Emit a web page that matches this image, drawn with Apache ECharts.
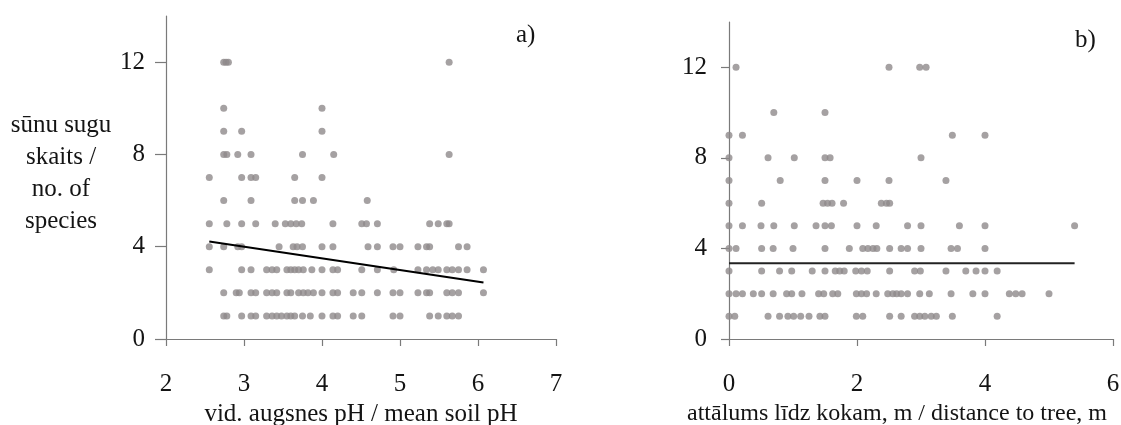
<!DOCTYPE html>
<html>
<head>
<meta charset="utf-8">
<script src="https://cdn.jsdelivr.net/npm/echarts@6/dist/echarts.min.js"></script>
<style>html,body{margin:0;padding:0;background:#fff}#c{width:1121px;height:425px}</style>
</head>
<body>
<div id="c"></div>
<script>
// ---- Panel a): soil pH vs number of species ----
const phRow12 = [2.74, 2.77, 2.80, 5.63];
const phRow10 = [2.74, 4.0];
const phRow9 = [2.74, 2.97, 4.0];
const phRow8 = [2.74, 2.78, 2.92, 3.09, 3.75, 4.15, 5.63];
const phRow7 = [2.555, 2.97, 3.09, 3.15, 3.65, 4.0];
const phRow6 = [2.74, 3.09, 3.65, 3.75, 3.89, 4.58];
const phRow5 = [2.555, 2.78, 2.97, 3.15, 3.40, 3.53, 3.60, 3.67, 3.74, 4.14, 4.51, 4.57, 4.71, 5.38, 5.49, 5.60, 5.63];
const phRow4 = [2.555, 2.74, 2.92, 2.97, 3.45, 3.63, 3.68, 3.75, 4.0, 4.14, 4.59, 4.71, 4.91, 5.0, 5.23, 5.34, 5.38, 5.75, 5.86];
const phRow3 = [2.555, 2.97, 3.09, 3.29, 3.36, 3.42, 3.55, 3.60, 3.65, 3.70, 3.76, 3.87, 4.0, 4.14, 4.2, 4.51, 4.71, 4.92, 5.23, 5.34, 5.42, 5.49, 5.60, 5.67, 5.75, 5.86, 6.07];
const phRow2 = [2.74, 2.90, 2.94, 3.09, 3.15, 3.29, 3.36, 3.42, 3.55, 3.60, 3.70, 3.76, 3.82, 3.89, 4.0, 4.14, 4.2, 4.40, 4.51, 4.71, 4.91, 5.0, 5.23, 5.34, 5.38, 5.60, 5.67, 5.75, 6.07];
const phRow1 = [2.74, 2.78, 2.97, 3.09, 3.15, 3.29, 3.36, 3.42, 3.48, 3.55, 3.60, 3.65, 3.75, 3.85, 4.0, 4.14, 4.2, 4.40, 4.51, 4.91, 5.0, 5.38, 5.49, 5.60, 5.67, 5.75];
const phTrendX = [2.555, 6.07];
const phTrendY = [4.23, 2.45];

// ---- Panel b): distance to tree vs number of species ----
const dRow12 = [0.11, 2.5, 2.98, 3.08];
const dRow10 = [0.70, 1.50];
const dRow9 = [0.0, 0.21, 3.49, 4.0];
const dRow8 = [0.0, 0.61, 1.02, 1.5, 1.58, 3.0];
const dRow7 = [0.0, 0.80, 1.50, 2.0, 2.5, 3.39];
const dRow6 = [0.0, 0.51, 1.47, 1.54, 1.61, 1.79, 2.38, 2.46, 2.51];
const dRow5 = [0.0, 0.21, 0.5, 0.7, 1.02, 1.36, 1.5, 1.6, 2.0, 2.3, 2.79, 3.0, 3.6, 4.0, 5.4];
const dRow4 = [0.0, 0.11, 0.51, 0.69, 1.0, 1.5, 1.88, 2.09, 2.17, 2.25, 2.31, 2.51, 2.69, 2.79, 3.0, 3.47, 3.57, 4.0];
const dRow3 = [0.0, 0.51, 0.79, 0.98, 1.30, 1.5, 1.66, 1.73, 1.80, 1.98, 2.07, 2.16, 2.51, 2.90, 2.99, 3.39, 3.70, 3.86, 4.0, 4.19];
const dRow2 = [0.0, 0.11, 0.21, 0.38, 0.51, 0.69, 0.90, 0.98, 1.14, 1.40, 1.48, 1.62, 1.70, 1.99, 2.07, 2.15, 2.30, 2.48, 2.56, 2.62, 2.69, 2.79, 2.98, 3.13, 3.47, 3.81, 4.0, 4.38, 4.48, 4.58, 5.0];
const dRow1 = [0.0, 0.09, 0.61, 0.79, 0.92, 1.01, 1.12, 1.25, 1.42, 1.50, 1.99, 2.09, 2.51, 2.69, 2.90, 2.98, 3.06, 3.16, 3.24, 3.49, 4.19];
const dTrendX = [0.0, 5.4];
const dTrendY = [3.35, 3.35];

// ---- tick labels ----
const yTicks = [0, 4, 8, 12];
const phTicks = [2, 3, 4, 5, 6, 7];
const dTicks = [0, 2, 4, 6];

const phRows = {12: phRow12, 10: phRow10, 9: phRow9, 8: phRow8, 7: phRow7, 6: phRow6, 5: phRow5, 4: phRow4, 3: phRow3, 2: phRow2, 1: phRow1};
const dRows = {12: dRow12, 10: dRow10, 9: dRow9, 8: dRow8, 7: dRow7, 6: dRow6, 5: dRow5, 4: dRow4, 3: dRow3, 2: dRow2, 1: dRow1};
function toPoints(rows) {
  const out = [];
  Object.keys(rows).forEach(k => rows[k].forEach(x => out.push([x, Number(k)])));
  return out;
}

const FONT = 'Liberation Serif';
const TXT = '#141414';
const AX = '#7a7a7a';
const DOT = '#8e8a8b';

function xAxisCfg(idx, min, max, interval, ticks, name, nameSize, pad) {
  return {
    type: 'value', gridIndex: idx, min: min, max: max, interval: interval,
    name: name, nameLocation: 'middle', nameGap: 56,
    nameTextStyle: {fontFamily: FONT, fontSize: nameSize, color: TXT, padding: pad},
    axisLine: {show: true, onZero: false, lineStyle: {color: AX, width: 1.2}},
    axisTick: {show: true, length: 7, lineStyle: {color: AX, width: 1.2}, customValues: ticks},
    axisLabel: {fontFamily: FONT, fontSize: 25, color: TXT, margin: 33, customValues: ticks},
    splitLine: {show: false}
  };
}
function yAxisCfg(idx, tickLen, margin) {
  return {
    type: 'value', gridIndex: idx, min: 0, max: 14,
    axisLine: {show: true, onZero: false, lineStyle: {color: AX, width: 1.2}},
    axisTick: {show: true, length: tickLen, lineStyle: {color: AX, width: 1.2}, customValues: yTicks},
    axisLabel: {fontFamily: FONT, fontSize: 25, color: TXT, margin: margin, customValues: yTicks},
    splitLine: {show: false}
  };
}

const chart = echarts.init(document.getElementById('c'), null, {renderer: 'canvas'});
chart.setOption({
  backgroundColor: '#ffffff',
  animation: false,
  grid: [
    {left: 166, top: 16, width: 390, bottom: 86, containLabel: false, outerBoundsMode: 'none'},
    {left: 729, top: 22, width: 384, bottom: 86, containLabel: false, outerBoundsMode: 'none'}
  ],
  xAxis: [
    xAxisCfg(0, 2, 7, 1, phTicks, 'vid. augsnes pH / mean soil pH', 25, [0, 0, 0, 0]),
    xAxisCfg(1, 0, 6, 2, dTicks, 'attālums līdz kokam, m / distance to tree, m', 24, [0, 48, 0, 0])
  ],
  yAxis: [
    yAxisCfg(0, 11, 21),
    yAxisCfg(1, 8, 22)
  ],
  graphic: [
    {type: 'text', x: 61, y: 109, style: {text: 'sūnu sugu\nskaits /\nno. of\nspecies', font: '25px "Liberation Serif"', fill: TXT, align: 'center', verticalAlign: 'top', lineHeight: 32}},
    {type: 'text', left: 516, top: 23, style: {text: 'a)', font: '25px "Liberation Serif"', fill: TXT}},
    {type: 'text', left: 1075, top: 28, style: {text: 'b)', font: '25px "Liberation Serif"', fill: TXT}}
  ],
  series: [
    {type: 'scatter', xAxisIndex: 0, yAxisIndex: 0, data: toPoints(phRows), symbol: 'circle', symbolSize: 7, itemStyle: {color: DOT}, silent: true, z: 2},
    {type: 'line', xAxisIndex: 0, yAxisIndex: 0, data: phTrendX.map((x, i) => [x, phTrendY[i]]), showSymbol: false, symbol: 'none', lineStyle: {color: '#000', width: 2}, silent: true, z: 3},
    {type: 'scatter', xAxisIndex: 1, yAxisIndex: 1, data: toPoints(dRows), symbol: 'circle', symbolSize: 7, itemStyle: {color: DOT}, silent: true, z: 2},
    {type: 'line', xAxisIndex: 1, yAxisIndex: 1, data: dTrendX.map((x, i) => [x, dTrendY[i]]), showSymbol: false, symbol: 'none', lineStyle: {color: '#222', width: 2}, silent: true, z: 3}
  ]
});
</script>
</body>
</html>
